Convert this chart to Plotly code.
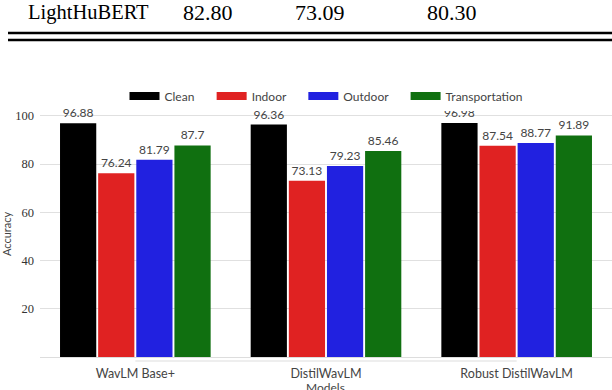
import plotly.graph_objects as go

models = ["WavLM Base+", "DistilWavLM", "Robust DistilWavLM"]
series = ["Clean", "Indoor", "Outdoor", "Transportation"]
clean = [96.88, 96.36, 96.98]
indoor = [76.24, 73.13, 87.54]
outdoor = [81.79, 79.23, 88.77]
transport = [87.7, 85.46, 91.89]
colors = ["#000000", "#e02222", "#2121e0", "#107010"]
table_row = ["LightHuBERT", "82.80", "73.09", "80.30"]

SERIF = "Liberation Serif, Times New Roman, DejaVu Serif, serif"
SANS = "Lato, DejaVu Sans, sans-serif"

W, H = 612, 390
L, R, T, B = 40, 0, 111, 33
pw, ph = W - L - R, H - T - B


def px(x):
    return (x - L) / pw


def py(y):
    return (H - B - y) / ph


fig = go.Figure()
for name, vals, c in zip(series, [clean, indoor, outdoor, transport], colors):
    fig.add_trace(go.Bar(
        x=models, y=vals, name=name, marker_color=c, marker_line_width=0,
        text=[str(v) for v in vals], textposition="outside",
        textfont=dict(family=SANS, size=12, color="#444444"),
        cliponaxis=False, showlegend=False,
    ))
# legend entries (wide swatches); pad all but the last entry for spacing
for i, (name, c) in enumerate(zip(series, colors)):
    pad = "\u00a0" * 4 if i < len(series) - 1 else ""
    fig.add_trace(go.Scatter(
        x=[None], y=[None], mode="lines", name=name + pad,
        line=dict(color=c, width=8), showlegend=True,
    ))

# table fragment at top
tx = [88, 208, 320, 452]
sizes = [20.5, 22, 22, 22]
for t, x, s in zip(table_row, tx, sizes):
    fig.add_annotation(x=px(x), y=py(13), xref="paper", yref="paper", text=t,
                       showarrow=False, xanchor="center", yanchor="middle",
                       font=dict(family=SERIF, size=s, color="#000"))
for yy in [33, 40]:
    fig.add_shape(type="line", xref="paper", yref="paper", x0=px(8), x1=px(612),
                  y0=py(yy), y1=py(yy), line=dict(color="#000", width=2.5))

# light axis line spanning the category centres
fig.add_shape(type="line", xref="x", yref="paper", x0=models[0], x1=models[-1],
              y0=py(361), y1=py(361), line=dict(color="#dddddd", width=1))

# x-axis title (partly cut at the bottom edge, as in the reference)
fig.add_annotation(x=px(325), y=py(387), xref="paper", yref="paper", text="Models",
                   showarrow=False, xanchor="center", yanchor="middle",
                   font=dict(family=SANS, size=12, color="#444444"))

fig.update_layout(
    width=W, height=H, margin=dict(l=L, r=R, t=T, b=B, autoexpand=False),
    barmode="group", bargap=0.2, bargroupgap=0.05,
    plot_bgcolor="white", paper_bgcolor="white",
    font=dict(family=SANS, size=11, color="#444444"),
    legend=dict(orientation="h", x=0.5, xanchor="center", y=py(96), yanchor="middle",
                font=dict(size=12, color="#444444"), itemwidth=30),
    xaxis=dict(tickfont=dict(size=12.5), showline=False, ticks="", automargin=False,
               ticklabelstandoff=7),
    yaxis=dict(title=dict(text="Accuracy", standoff=6, font=dict(size=11)),
               range=[0, 102], tickvals=[20, 40, 60, 80, 100], automargin=False,
               tickfont=dict(family=SERIF, size=12.5, color="#333"),
               ticklabelstandoff=5,
               showgrid=True, gridcolor="#e0e0e0", gridwidth=1,
               zeroline=True, zerolinecolor="#dddddd", zerolinewidth=1),
)
fig.write_html("out.html", post_script="document.body.style.margin='0';",
               config={"displayModeBar": False})
